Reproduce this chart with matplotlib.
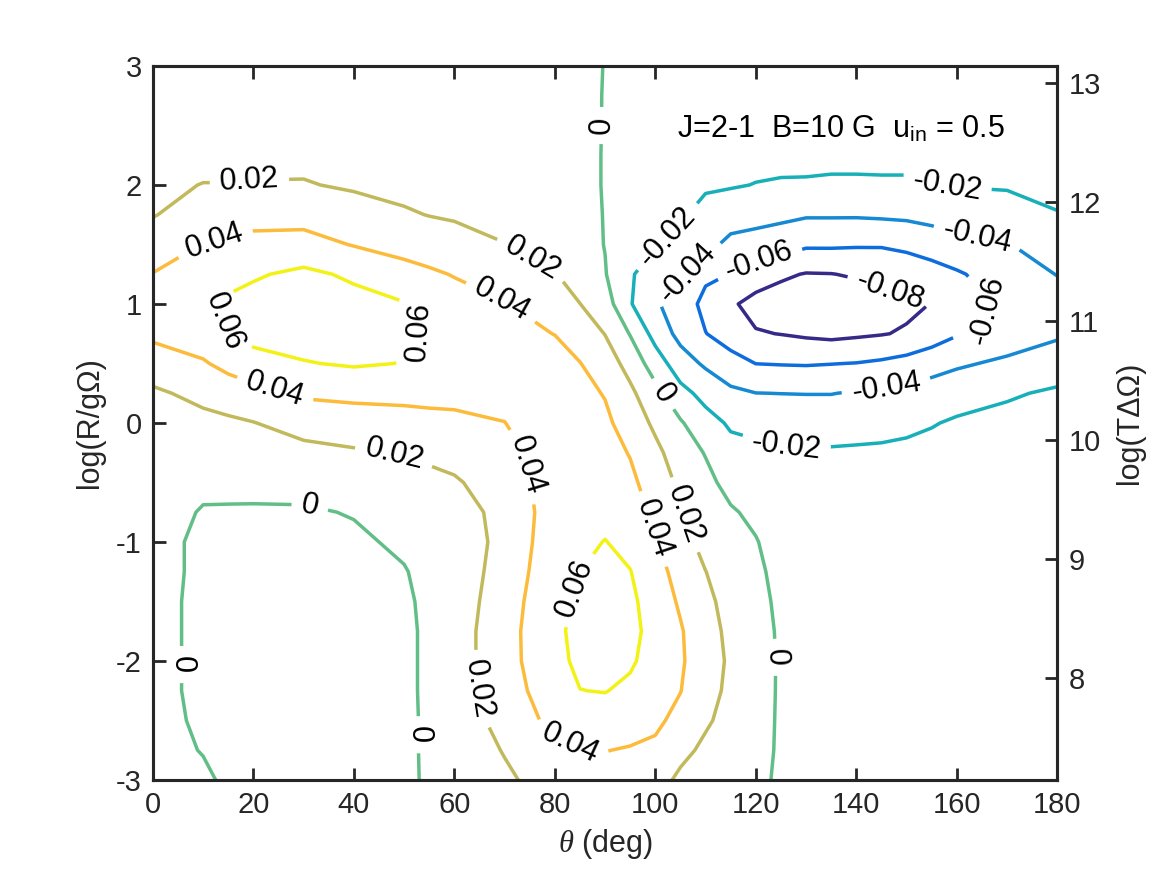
import numpy as np
import matplotlib
matplotlib.use('Agg')
import matplotlib.pyplot as plt

plt.rcParams['font.family'] = ['Liberation Sans', 'DejaVu Sans']
plt.rcParams['axes.unicode_minus'] = False
plt.rcParams['mathtext.fontset'] = 'custom'
plt.rcParams['mathtext.rm'] = 'Liberation Sans'
plt.rcParams['mathtext.it'] = 'Liberation Serif:italic'

# ---------------------------------------------------------------
# grid (theta in deg, log(R/gOmega)) and field values

theta = [0, 10, 15, 20, 30, 40, 50, 55, 60, 70, 80, 85, 90, 95, 100, 105, 110, 115,
         120, 125, 130, 135, 140, 145, 150, 155, 160, 170, 180]
log_r = [-3, -2.75, -2.5, -2.25, -2, -1.75, -1.5, -1.25, -1, -0.75, -0.5, -0.25,
         0, 0.25, 0.5, 0.75, 1, 1.25, 1.5, 1.75, 2, 2.25, 2.5, 2.75, 3]

# one list per theta column, from log_r = -3 up to 3
t000 = [0.004, 0.004, 0.004, 0.004, 0.004, 0.004, 0.004, 0.005, 0.005, 0.006, 0.008, 0.011,
        0.014, 0.017, 0.030, 0.044, 0.049, 0.0405, 0.030, 0.019, 0.016, 0.012, 0.009, 0.007, 0.006]
t010 = [0.002, -0.0005, -0.002, -0.003, -0.003, -0.003, -0.003, -0.003, -0.003, -0.001, 0.003, 0.008,
        0.015, 0.025, 0.038, 0.051, 0.057, 0.052, 0.0405, 0.029, 0.0205, 0.014, 0.011, 0.008, 0.007]
t015 = [-0.002, -0.003, -0.004, -0.004, -0.004, -0.004, -0.004, -0.004, -0.0035, -0.0015, 0.004, 0.010,
        0.017, 0.029, 0.046, 0.0598, 0.0625, 0.055, 0.042, 0.032, 0.0205, 0.0145, 0.011, 0.0085, 0.007]
t020 = [-0.004, -0.005, -0.005, -0.005, -0.005, -0.005, -0.005, -0.005, -0.004, -0.002, 0.005, 0.012,
        0.0195, 0.033, 0.054, 0.065, 0.066, 0.058, 0.045, 0.034, 0.021, 0.015, 0.011, 0.009, 0.007]
t030 = [-0.006, -0.006, -0.007, -0.007, -0.007, -0.007, -0.007, -0.006, -0.005, -0.002, 0.006, 0.015,
        0.027, 0.043, 0.059, 0.068, 0.071, 0.064, 0.047, 0.033, 0.021, 0.016, 0.012, 0.009, 0.007]
t040 = [-0.006, -0.007, -0.007, -0.007, -0.007, -0.007, -0.006, -0.005, -0.003, 0.001, 0.009, 0.018,
        0.030, 0.045, 0.062, 0.067, 0.066, 0.057, 0.039, 0.027, 0.018, 0.014, 0.010, 0.008, 0.006]
t050 = [-0.003, -0.004, -0.004, -0.004, -0.004, -0.004, -0.003, -0.001, 0.003, 0.008, 0.014, 0.021,
        0.033, 0.045, 0.0595, 0.063, 0.061, 0.047, 0.033, 0.022, 0.015, 0.011, 0.008, 0.006, 0.005]
t055 = [0.002, 0.003, 0.003, 0.0035, 0.0035, 0.0035, 0.004, 0.005, 0.007, 0.010, 0.016, 0.023,
        0.035, 0.045, 0.055, 0.058, 0.055, 0.043, 0.030, 0.0195, 0.0135, 0.010, 0.0075, 0.0055, 0.0045]
t060 = [0.007, 0.009, 0.010, 0.011, 0.011, 0.011, 0.010, 0.010, 0.010, 0.013, 0.018, 0.026,
        0.036, 0.045, 0.051, 0.052, 0.048, 0.039, 0.027, 0.018, 0.012, 0.009, 0.007, 0.005, 0.004]
t070 = [0.017, 0.021, 0.026, 0.030, 0.032, 0.032, 0.030, 0.027, 0.025, 0.025, 0.029, 0.034,
        0.0398, 0.044, 0.046, 0.045, 0.041, 0.031, 0.0205, 0.013, 0.009, 0.006, 0.004, 0.003, 0.002]
t080 = [0.028, 0.034, 0.046, 0.052, 0.056, 0.057, 0.056, 0.054, 0.052, 0.050, 0.050, 0.049,
        0.049, 0.048, 0.046, 0.0397, 0.030, 0.021, 0.013, 0.008, 0.006, 0.004, 0.003, 0.0025, 0.002]
t085 = [0.031, 0.0395, 0.052, 0.0598, 0.063, 0.064, 0.063, 0.0598, 0.056, 0.053, 0.051, 0.049,
        0.047, 0.045, 0.0405, 0.031, 0.0202, 0.011, 0.007, 0.005, 0.0035, 0.0025, 0.0018, 0.0013, 0.001]
t090 = [0.032, 0.0405, 0.053, 0.0605, 0.066, 0.068, 0.068, 0.066, 0.0605, 0.055, 0.051, 0.047,
        0.0435, 0.039, 0.030, 0.0195, 0.009, 0.001, -0.0005, -0.0006, -0.0007, -0.0005, -0.0003, -0.0002, -0.0001]
t095 = [0.030, 0.0385, 0.049, 0.057, 0.062, 0.064, 0.063, 0.0605, 0.055, 0.049, 0.044, 0.039,
        0.032, 0.024, 0.013, -0.001, -0.0185, -0.0175, -0.010, -0.006, -0.0045, -0.0035, -0.003, -0.0025, -0.002]
t100 = [0.026, 0.036, 0.044, 0.050, 0.054, 0.055, 0.053, 0.049, 0.0415, 0.036, 0.031, 0.025,
        0.016, 0.006, -0.010, -0.027, -0.038, -0.032, -0.0185, -0.012, -0.0085, -0.0075, -0.0065, -0.0055, -0.005]
t105 = [0.017, 0.024, 0.034, 0.0405, 0.043, 0.042, 0.037, 0.031, 0.026, 0.022, 0.016, 0.0095,
        0.002, -0.014, -0.031, -0.046, -0.048, -0.035, -0.026, -0.018, -0.0125, -0.010, -0.0085, -0.0075, -0.0065]
t110 = [0.010, 0.017, 0.022, 0.025, 0.026, 0.025, 0.023, 0.0202, 0.015, 0.010, 0.005, -0.001,
        -0.013, -0.026, -0.043, -0.0595, -0.066, -0.056, -0.034, -0.025, -0.018, -0.014, -0.011, -0.0095, -0.0085]
t115 = [0.008, 0.012, 0.015, 0.017, 0.018, 0.017, 0.0155, 0.0125, 0.0085, 0.002, -0.006, -0.014,
        -0.0225, -0.036, -0.053, -0.069, -0.077, -0.0605, -0.045, -0.031, -0.0185, -0.014, -0.012, -0.010, -0.009]
t120 = [0.003, 0.005, 0.006, 0.007, 0.0075, 0.007, 0.006, 0.004, 0.001, -0.004, -0.009, -0.015,
        -0.026, -0.0398, -0.0602, -0.0785, -0.087, -0.069, -0.048, -0.033, -0.0205, -0.015, -0.012, -0.011, -0.010]
t125 = [-0.002, -0.002, -0.002, -0.002, -0.002, -0.0025, -0.004, -0.006, -0.008, -0.011, -0.014, -0.018,
        -0.028, -0.0402, -0.061, -0.0805, -0.089, -0.077, -0.050, -0.036, -0.0215, -0.0155, -0.013, -0.012, -0.011]
t130 = [-0.004, -0.004, -0.004, -0.004, -0.005, -0.005, -0.006, -0.008, -0.010, -0.012, -0.015, -0.018,
        -0.028, -0.0405, -0.0615, -0.083, -0.091, -0.081, -0.057, -0.038, -0.0215, -0.016, -0.013, -0.012, -0.011]
t135 = [-0.004, -0.004, -0.005, -0.005, -0.005, -0.006, -0.007, -0.008, -0.010, -0.012, -0.015, -0.018,
        -0.028, -0.0405, -0.0605, -0.085, -0.092, -0.0805, -0.057, -0.038, -0.022, -0.0165, -0.0135, -0.012, -0.011]
t140 = [-0.004, -0.004, -0.005, -0.005, -0.005, -0.006, -0.007, -0.008, -0.010, -0.012, -0.0145, -0.0175,
        -0.027, -0.0385, -0.0595, -0.083, -0.091, -0.078, -0.058, -0.038, -0.022, -0.0165, -0.0135, -0.012, -0.011]
t145 = [-0.004, -0.004, -0.005, -0.005, -0.005, -0.006, -0.007, -0.008, -0.010, -0.0115, -0.014, -0.017,
        -0.026, -0.037, -0.057, -0.081, -0.088, -0.073, -0.0585, -0.037, -0.022, -0.016, -0.0135, -0.012, -0.011]
t150 = [-0.004, -0.004, -0.005, -0.005, -0.005, -0.006, -0.007, -0.008, -0.0095, -0.011, -0.013, -0.016,
        -0.024, -0.035, -0.053, -0.078, -0.084, -0.071, -0.056, -0.036, -0.022, -0.016, -0.0135, -0.012, -0.011]
t155 = [-0.004, -0.004, -0.004, -0.005, -0.005, -0.006, -0.0065, -0.0075, -0.009, -0.0105, -0.012, -0.015,
        -0.021, -0.031, -0.048, -0.070, -0.0795, -0.067, -0.052, -0.033, -0.0205, -0.015, -0.013, -0.0115, -0.0105]
t160 = [-0.004, -0.004, -0.004, -0.005, -0.005, -0.0055, -0.006, -0.007, -0.0085, -0.010, -0.0115, -0.014,
        -0.018, -0.027, -0.043, -0.0615, -0.070, -0.0625, -0.045, -0.032, -0.019, -0.0145, -0.012, -0.011, -0.010]
t170 = [-0.004, -0.004, -0.004, -0.005, -0.005, -0.006, -0.006, -0.007, -0.008, -0.010, -0.011, -0.013,
        -0.015, -0.022, -0.036, -0.052, -0.056, -0.049, -0.041, -0.029, -0.018, -0.013, -0.011, -0.010, -0.009]
t180 = [-0.003, -0.004, -0.004, -0.004, -0.005, -0.005, -0.006, -0.007, -0.008, -0.009, -0.010, -0.011,
        -0.012, -0.0175, -0.029, -0.043, -0.048, -0.0395, -0.030, -0.021, -0.014, -0.011, -0.009, -0.008, -0.008]

levels = [-0.08, -0.06, -0.04, -0.02, 0, 0.02, 0.04, 0.06]
level_colors = ['#352a87', '#0d6ddc', '#1689d2', '#17afb8', '#62be87', '#c1b95c', '#fcbb3b', '#f3f216']

# where the inline labels sit (theta, log_r)
label_pos = [(88.6, 2.5), (19.3, 2.0), (12.3, 1.51), (15.0, 0.87), (54.0, 0.78),
             (77.0, 1.5), (70.0, 1.08), (24.3, 0.28), (48.0, -0.27), (31.3, -0.69),
             (101.8, 0.25), (75.0, -0.35), (106.0, -0.77), (99.0, -0.9), (82.0, -1.36),
             (6.4, -2.03), (64.7, -2.24), (53.2, -2.62), (83.0, -2.7), (123.5, -1.97),
             (102.0, 1.58), (107.0, 1.24), (121.0, 1.29), (147.0, 1.15), (158.0, 1.98),
             (164.0, 1.54), (166.0, 0.95), (146.0, 0.29), (126.0, -0.17)]

t_offset = 10.14  # log(T dOmega) = log(R/gOmega) + offset
right_ticks = [8, 9, 10, 11, 12, 13]

# ---------------------------------------------------------------

field = np.column_stack([t000, t010, t015, t020, t030, t040, t050, t055, t060, t070,
                         t080, t085, t090, t095, t100, t105, t110, t115, t120, t125,
                         t130, t135, t140, t145, t150, t155, t160, t170, t180])

ink = '#262626'

fig = plt.figure(figsize=(11.67, 8.75), dpi=100)
ax = fig.add_axes([0.131, 0.1086, 0.775, 0.816])

cs = ax.contour(theta, log_r, field, levels=levels, colors=level_colors, linewidths=2.5)
ax.clabel(cs, fmt=lambda v: f'{v:g}', fontsize=22, inline=True, inline_spacing=10,
          colors='k', manual=label_pos)

ax.set_xlim(0, 180)
ax.set_ylim(-3, 3)
ax.set_xticks([0, 20, 40, 60, 80, 100, 120, 140, 160, 180])
ax.set_yticks([-3, -2, -1, 0, 1, 2, 3])
ax.tick_params(direction='in', length=9, width=2.0, colors=ink, labelsize=21,
               top=True, right=False, pad=8)
ax.set_xlabel(r'$\theta$ (deg)', fontsize=22, color=ink, labelpad=6)
ax.set_ylabel('log(R/gΩ)', fontsize=22, color=ink, labelpad=8)

ax.text(137, 2.47, r'J=2-1  B=10 G  u$_{\rm in}$ = 0.5', fontsize=22, ha='center', va='center')

ax2 = ax.twinx()
ax2.set_ylim(-3 + t_offset, 3 + t_offset)
ax2.set_yticks(right_ticks)
ax2.tick_params(direction='in', length=9, width=2.0, colors=ink, labelsize=21, pad=8)
ax2.set_ylabel('log(TΔΩ)', fontsize=22, color=ink, labelpad=10)

for a in (ax, ax2):
    for s in a.spines.values():
        s.set_linewidth(2.2)
        s.set_color(ink)

fig.savefig('out.png', dpi=100)
